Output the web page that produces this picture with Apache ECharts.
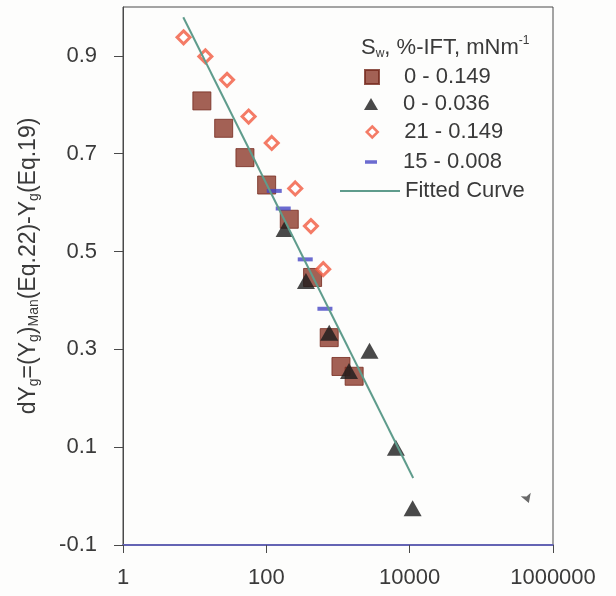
<!DOCTYPE html>
<html>
<head>
<meta charset="utf-8">
<script src="https://cdn.jsdelivr.net/npm/echarts@6/dist/echarts.min.js"></script>
<style>
  html, body { margin: 0; padding: 0; background: #fdfdfc; }
  #chart { width: 616px; height: 596px; }
</style>
</head>
<body>
<div id="chart"></div>
<script>
// Axis ticks
const xTicks = [1, 100, 10000, 1000000];
const yTicks = [-0.1, 0.1, 0.3, 0.5, 0.7, 0.9];

// Series names (Sw %, IFT mN/m)
const seriesNames = ['0 - 0.149', '0 - 0.036', '21 - 0.149', '15 - 0.008', 'Fitted Curve'];

// Sw = 0 %, IFT = 0.149 mN/m
const sqX = [12.6, 25.4, 50.3, 101, 209, 442, 754, 1100, 1680];
const sqY = [0.808, 0.752, 0.692, 0.636, 0.566, 0.447, 0.324, 0.265, 0.245];

// Sw = 0 %, IFT = 0.036 mN/m
const triX = [180, 357, 754, 2750, 1425, 6420, 11000];
const triY = [0.546, 0.440, 0.334, 0.297, 0.256, 0.099, -0.025];

// Sw = 21 %, IFT = 0.149 mN/m
const diaX = [7.0, 14.1, 28.3, 56.6, 119, 253, 419, 622];
const diaY = [0.938, 0.899, 0.851, 0.776, 0.722, 0.629, 0.552, 0.464];

// Sw = 15 %, IFT = 0.008 mN/m
const dashX = [129, 172, 349, 657];
const dashY = [0.624, 0.588, 0.484, 0.383];

// Fitted curve end points
const fitX = [6.94, 11200];
const fitY = [0.979, 0.037];

// Stray speck near the lower right
const speckX = [460000];
const speckY = [-0.014];

const pairs = (xs, ys) => xs.map((x, i) => [x, ys[i]]);

const FONT = 'Liberation Sans, Arial, sans-serif';
const TXT = '#3a3a3a';
const AX = '#4a4a4a';

const colSquare = '#8c3a2b';
const colTri = '#1c1c1c';
const colDia = '#f15a40';
const colDash = '#4646c4';
const colFit = '#5f9c8c';

// one legend box per entry so each marker keeps its own size
function legendEntry(name, w, h, centerX, centerY, textLeft, extra) {
  const left = centerX - w / 2;
  return Object.assign({
    data: [name],
    orient: 'vertical',
    left: left,
    top: centerY - 12,
    padding: 0,
    itemWidth: w,
    itemHeight: h,
    selectedMode: false,
    textStyle: {
      fontFamily: FONT, fontSize: 22, color: TXT, lineHeight: 24,
      padding: [0, 0, 0, Math.max(0, textLeft - (left + w + 5))]
    }
  }, extra || {});
}

const chart = echarts.init(document.getElementById('chart'), null, { renderer: 'canvas' });

const option = {
  backgroundColor: '#fdfdfc',
  animation: false,
  title: {
    left: 361,
    top: 34,
    padding: 0,
    text: '{t|S}{s|w}{t|, %-IFT, mNm}{p|-1}',
    textStyle: {
      rich: {
        t: { fontFamily: FONT, fontSize: 22, fontWeight: 'normal', color: TXT, lineHeight: 28 },
        s: { fontFamily: FONT, fontSize: 12, fontWeight: 'normal', color: TXT, padding: [12, 0, 0, 0] },
        p: { fontFamily: FONT, fontSize: 12, fontWeight: 'normal', color: TXT, padding: [0, 0, 14, 0] }
      }
    }
  },
  legend: [
    legendEntry(seriesNames[0], 14, 14, 371, 77, 403),
    legendEntry(seriesNames[1], 14, 12, 371, 104, 403),
    legendEntry(seriesNames[2], 11, 11, 371, 132, 403, {
      itemStyle: { color: '#fff', borderColor: colDia, borderWidth: 2.5 }
    }),
    legendEntry(seriesNames[3], 12, 3.5, 371, 162, 403),
    legendEntry(seriesNames[4], 60, 2, 370, 191, 403, { icon: 'rect' })
  ],
  grid: {
    left: 123, right: 63, top: 7, bottom: 51,
    show: true, borderColor: AX, borderWidth: 1, backgroundColor: 'transparent'
  },
  xAxis: {
    type: 'log',
    logBase: 100,
    min: xTicks[0],
    max: xTicks[xTicks.length - 1],
    axisLine: { show: true, onZero: false, lineStyle: { color: '#6464b4', width: 2 } },
    axisTick: { show: true, inside: false, length: 8, lineStyle: { color: AX } },
    minorTick: { show: false },
    splitLine: { show: false },
    axisLabel: {
      margin: 22, fontFamily: FONT, fontSize: 22, color: TXT,
      formatter: v => String(Math.round(v))
    }
  },
  yAxis: {
    type: 'value',
    min: -0.1,
    max: 1.0,
    interval: 0.1,
    name: '{t|dY}{s|g}{t|=(Y}{s|g}{t|)}{s|Man}{t|(Eq.22)-Y}{s|g}{t|(Eq.19)}',
    nameLocation: 'middle',
    nameRotate: 90,
    nameGap: 80,
    nameTextStyle: {
      padding: [0, 0, 0, 20],
      rich: {
        t: { fontFamily: FONT, fontSize: 23, color: TXT, lineHeight: 28 },
        s: { fontFamily: FONT, fontSize: 14, color: TXT, padding: [10, 0, 0, 0] }
      }
    },
    axisLine: { show: true, onZero: false, lineStyle: { color: AX, width: 1 } },
    axisTick: { show: true, inside: false, length: 9, lineStyle: { color: AX }, customValues: yTicks },
    splitLine: { show: false },
    axisLabel: {
      margin: 26, fontFamily: FONT, fontSize: 22, color: TXT,
      customValues: yTicks,
      formatter: v => v.toFixed(1)
    }
  },
  series: [
    {
      name: seriesNames[0], type: 'scatter', symbol: 'rect', symbolSize: 18,
      itemStyle: { color: colSquare, borderColor: '#74291d', borderWidth: 1 },
      data: pairs(sqX, sqY), z: 3
    },
    {
      name: seriesNames[1], type: 'scatter', symbol: 'triangle', symbolSize: [18, 16],
      itemStyle: { color: colTri },
      data: pairs(triX, triY), z: 4
    },
    {
      name: seriesNames[2], type: 'scatter', symbol: 'diamond', symbolSize: 13,
      itemStyle: { color: '#fff', borderColor: colDia, borderWidth: 3 },
      data: pairs(diaX, diaY), z: 3
    },
    {
      name: seriesNames[3], type: 'scatter', symbol: 'rect', symbolSize: [15, 4],
      itemStyle: { color: colDash },
      data: pairs(dashX, dashY), z: 5
    },
    {
      name: seriesNames[4], type: 'line', showSymbol: false, symbol: 'none',
      lineStyle: { color: colFit, width: 2 },
      itemStyle: { color: colFit },
      data: pairs(fitX, fitY), z: 6
    },
    {
      name: 'speck', type: 'scatter', symbol: 'arrow', symbolSize: [8, 9], symbolRotate: 200,
      itemStyle: { color: '#444' },
      data: pairs(speckX, speckY), z: 3
    }
  ]
};

chart.setOption(option);
</script>
</body>
</html>
